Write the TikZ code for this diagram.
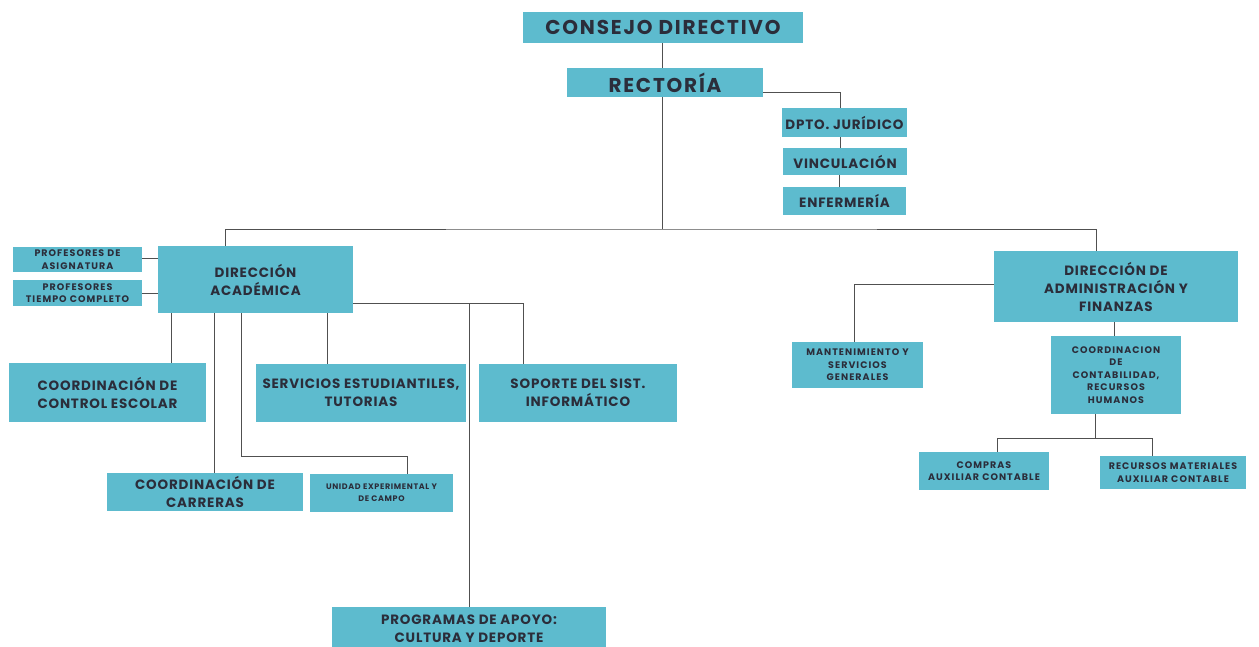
\documentclass[tikz,border=0pt]{standalone}
\usepackage{fontspec}
\setmainfont{Poppins}
\usepackage{tikz}
\usetikzlibrary{calc,positioning}
\definecolor{boxblue}{HTML}{5DBBCE}
\definecolor{boxtext}{HTML}{2B2D3A}
\definecolor{linegray}{HTML}{505050}

\begin{document}
\begin{tikzpicture}[
					x=1pt,y=-1pt,
					unit/.style={
						rectangle,
						fill=boxblue,
						text=boxtext,
						inner sep=0pt,
						align=center
					},
					bigunit/.style={unit,font=\bfseries\fontsize{20}{23}\selectfont\addfontfeature{LetterSpace=9}},
					midunit/.style={unit,font=\bfseries\fontsize{13.5}{18}\selectfont\addfontfeature{LetterSpace=6}},
					smallunit/.style={unit,font=\bfseries\fontsize{9.5}{12.5}\selectfont\addfontfeature{LetterSpace=11}},
					tinyunit/.style={unit,font=\bfseries\fontsize{8}{12}\selectfont\addfontfeature{LetterSpace=8}},
					link/.style={draw=linegray,line width=0.8pt}]

					\path[use as bounding box,fill=white] (0,0) rectangle (1259,647);

					%%% Nodes
					%% Top
					\node at (663,27.5) [bigunit,minimum width=280pt,minimum height=31pt] (consejo) {CONSEJO DIRECTIVO};
					\node at (665,82.5) [bigunit,minimum width=196pt,minimum height=29pt] (rectoria) {RECTORÍA};
					\node at (844.5,122.5) [midunit,minimum width=125pt,minimum height=29pt] (juridico) {DPTO. JURÍDICO};
					\node at (845,161.5) [midunit,minimum width=124pt,minimum height=27pt] (vinculacion) {VINCULACIÓN};
					\node at (844.5,201) [midunit,minimum width=123pt,minimum height=28pt] (enfermeria) {ENFERMERÍA};

					%% Left hand side
					\node at (77.5,259.5) [smallunit,minimum width=129pt,minimum height=25pt] (profasig) {PROFESORES DE\\ASIGNATURA};
					\node at (77.5,293) [smallunit,minimum width=129pt,minimum height=26pt] (proftiempo) {PROFESORES\\TIEMPO COMPLETO};
					\node at (255.5,279.5) [midunit,minimum width=195pt,minimum height=67pt] (diracad) {DIRECCIÓN\\ACADÉMICA};
					\node at (107.5,392.5) [midunit,minimum width=197pt,minimum height=59pt] (escolar) {COORDINACIÓN DE\\CONTROL ESCOLAR};
					\node at (361,393) [midunit,minimum width=210pt,minimum height=58pt] (servicios) {SERVICIOS ESTUDIANTILES,\\TUTORIAS};
					\node at (578,393) [midunit,minimum width=198pt,minimum height=58pt] (soporte) {SOPORTE DEL SIST.\\INFORMÁTICO};
					\node at (205,492) [midunit,minimum width=196pt,minimum height=38pt] (carreras) {COORDINACIÓN DE\\CARRERAS};
					\node at (381.5,493) [tinyunit,minimum width=143pt,minimum height=38pt] (unidad) {UNIDAD EXPERIMENTAL Y\\DE CAMPO};
					\node at (469,628.5) [midunit,minimum width=274pt,minimum height=43pt] (programas) {PROGRAMAS DE APOYO:\\CULTURA Y DEPORTE};

					%% Right hand side
					\node at (1116,286.5) [midunit,minimum width=244pt,minimum height=71pt] (diradmin) {DIRECCIÓN DE\\ADMINISTRACIÓN Y\\FINANZAS};
					\node at (857.5,365) [smallunit,minimum width=131pt,minimum height=46pt] (mantenimiento) {MANTENIMIENTO Y\\SERVICIOS\\GENERALES};
					\node at (1116,375) [smallunit,minimum width=130pt,minimum height=78pt] (contabilidad) {COORDINACION\\DE\\CONTABILIDAD,\\RECURSOS\\HUMANOS};
					\node at (984,471) [smallunit,minimum width=130pt,minimum height=38pt] (compras) {COMPRAS\\AUXILIAR CONTABLE};
					\node at (1173,472.5) [smallunit,minimum width=146pt,minimum height=33pt] (materiales) {RECURSOS MATERIALES\\AUXILIAR CONTABLE};

					%%% Connections
					%% Top
					\coordinate (bus) at (662,229);
					\draw [link] (consejo.south -| bus) -- (rectoria.north -| bus);
					\draw [link] ([yshift=-9.5pt]rectoria.east) -| ([xshift=-4.5pt]juridico.north);
					\draw [link] ([xshift=-4.5pt]juridico.south) -- ([xshift=-4.5pt]juridico.south |- vinculacion.north);
					\draw [link] ([xshift=-6pt]vinculacion.south) -- ([xshift=-6pt]vinculacion.south |- enfermeria.north);
					\draw [link] (rectoria.south -| bus) -- (bus);
					\draw [link] ([xshift=-30.5pt]diracad.north) |- (bus) -| ([xshift=-20pt]diradmin.north);

					%% Left hand connections
					\draw [link] ([yshift=1.5pt]profasig.east) -- ([yshift=1.5pt]profasig.east -| diracad.west);
					\draw [link] (proftiempo.east) -- (proftiempo.east -| diracad.west);
					\draw [link] ([xshift=-84.5pt]diracad.south) -- ([xshift=-84.5pt]diracad.south |- escolar.north);
					\draw [link] ([xshift=-41.5pt]diracad.south) -- ([xshift=-41.5pt]diracad.south |- carreras.north);
					\draw [link] ([xshift=-14.5pt]diracad.south) |- ($(unidad.north)+(25.5,-17)$) -- ([xshift=25.5pt]unidad.north);
					\draw [link] ([xshift=71.5pt]diracad.south) -- ([xshift=71.5pt]diracad.south |- servicios.north);
					\draw [link] ([yshift=-23.5pt]diracad.east) coordinate (acadright) -| ([xshift=-55pt]soporte.north);
					\draw [link] (programas.north) -- (programas.north |- acadright);

					%% Right hand connections
					\draw [link] ([yshift=2.5pt]diradmin.west) -| ([xshift=-3.5pt]mantenimiento.north);
					\draw [link] ([xshift=-2pt]diradmin.south) -- ([xshift=-2pt]contabilidad.north);
					\draw [link] ([xshift=-21pt]contabilidad.south) -- ++(0,24) coordinate (split);
					\draw [link] ([xshift=13pt]compras.north) |- (split) -| ([xshift=-21pt]materiales.north);
				\end{tikzpicture}
\end{document}
